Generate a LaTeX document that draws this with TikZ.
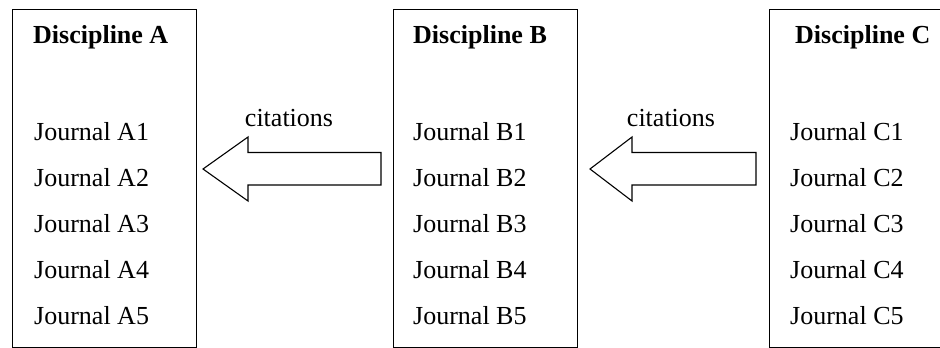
\documentclass[tikz,border=0pt]{standalone}
\usepackage{fontspec}
\setmainfont{Liberation Serif}
\begin{document}
\begin{tikzpicture}[x=1pt,y=-1pt,
  disc/.style={draw=black,line width=1.4pt,rectangle,inner sep=0pt,anchor=north west,minimum width=184pt,minimum height=337.5pt},
  head/.style={anchor=base west,font=\fontsize{26}{30}\selectfont\bfseries,inner sep=0pt},
  jour/.style={anchor=base west,font=\fontsize{26}{30}\selectfont,inner sep=0pt},
  lab/.style={font=\fontsize{26}{30}\selectfont,inner sep=0pt},
  blockarrow/.style={draw=black,line width=1.1pt,fill=white,line join=miter}]
\clip (0,0) rectangle (940,348);
\fill[white] (0,0) rectangle (940,348);
% boxes
\node[disc] (boxA) at (12,9) {};
\node[disc] (boxB) at (393,9) {};
\node[disc] (boxC) at (769,9) {};
% headings
\node[head] (hA) at (33,43) {Discipline A};
\node[head] (hB) at (413,43) {Discipline B};
\node[head] (hC) at (795,43) {Discipline C};
% journals
\foreach \i/\y in {1/140,2/186,3/232,4/278,5/324}{
  \node[jour] (jA\i) at (34,\y) {Journal A\i};
  \node[jour] (jB\i) at (413,\y) {Journal B\i};
  \node[jour] (jC\i) at (790,\y) {Journal C\i};
}
% block arrows
\coordinate (t1) at (203,169);
\coordinate (t2) at (590,169);
\draw[blockarrow] (t1) -- ++(45,-32) -- ++(0,15.5) -- (381,152.5) -- (381,185) -- ++(-133,0) -- ++(0,16) -- cycle;
\draw[blockarrow] (t2) -- ++(42,-32) -- ++(0,15.5) -- (756,152.5) -- (756,185) -- ++(-124,0) -- ++(0,16) -- cycle;
% labels
\node[lab] (c1) at (289,118) {citations};
\node[lab] (c2) at (671,118) {citations};
\end{tikzpicture}
\end{document}
